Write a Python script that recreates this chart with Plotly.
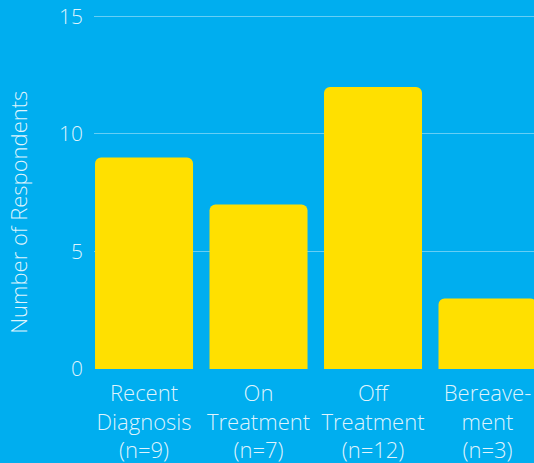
import plotly.graph_objects as go

# Respondents per group
categories = ["Recent<br>Diagnosis<br>(n=9)", "On<br>Treatment<br>(n=7)",
              "Off<br>Treatment<br>(n=12)", "Bereave-<br>ment<br>(n=3)"]
respondents = [9, 7, 12, 3]
y_ticks = [0, 5, 10, 15]

BG = "#00AEEF"
BAR = "#FFE000"
TEXT = "rgba(255,255,255,0.88)"
FONT = "Open Sans"

fig = go.Figure(go.Bar(
    x=list(range(len(categories))),
    y=respondents,
    marker=dict(color=BAR, line=dict(width=0)),
    hoverinfo="skip",
))

fig.update_layout(
    width=534, height=463,
    margin=dict(l=94, r=0, t=14, b=94),
    paper_bgcolor=BG, plot_bgcolor=BG,
    font=dict(family=FONT, color=TEXT, size=20, weight=300),
    bargap=0.144,
    barcornerradius=6,
    showlegend=False,
    xaxis=dict(
        range=[-0.437, 3.406],
        tickmode="array", tickvals=list(range(len(categories))), ticktext=categories,
        tickfont=dict(size=22, family=FONT, color=TEXT, weight=300),
        showgrid=False, zeroline=False, showline=False, ticks="",
        ticklabelstandoff=9,
    ),
    yaxis=dict(
        range=[0, 15.1], tickvals=y_ticks,
        tickfont=dict(size=21, family=FONT, color=TEXT, weight=300),
        showgrid=True, gridcolor="rgba(255,255,255,0.4)", gridwidth=1,
        zeroline=False, showline=False, ticks="", ticklabelstandoff=10,
    ),
    annotations=[dict(
        text="Number of Respondents", textangle=-90,
        xref="paper", yref="paper", x=-0.1727, y=0.44,
        xanchor="center", yanchor="middle", showarrow=False,
        font=dict(size=22, family=FONT, color=TEXT, weight=300),
    )],
)

fig.write_html("out.html")
